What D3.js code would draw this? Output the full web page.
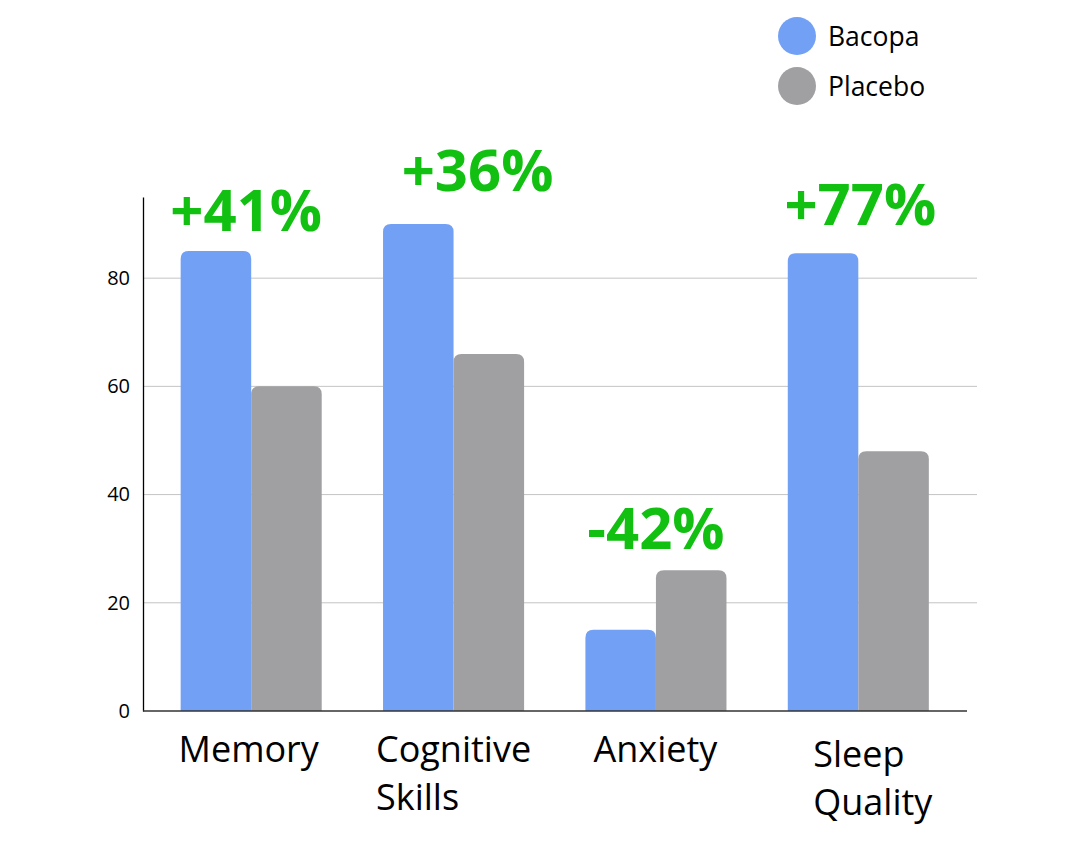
<!DOCTYPE html>
<html>
<head>
<meta charset="utf-8">
<script src="https://cdn.jsdelivr.net/npm/d3@7"></script>
<style>
  html, body { margin: 0; padding: 0; background: #ffffff; }
  svg { display: block; font-family: "Open Sans", "Noto Sans", sans-serif; }
</style>
</head>
<body>
<svg id="chart" width="1080" height="848"></svg>
<script>
const categories = [["Memory"], ["Cognitive", "Skills"], ["Anxiety"], ["Sleep", "Quality"]];
const seriesNames = ["Bacopa", "Placebo"];
const bacopa = [85, 90, 15, 84.6];
const placebo = [60, 66, 26, 48];
const changeLabels = ["+41%", "+36%", "-42%", "+77%"];
const yTicks = [0, 20, 40, 60, 80];
const colors = ["#72a0f5", "#a09fa1"];

// layout nudges (pixels), kept separate from data
const changeNudge = [[-5, 4], [24, -9], [0, 3], [2, -4]];
const catNudge = [[-2, 0], [0, 0], [0, 0], [15, 5]];

const svg = d3.select("#chart");
const catKeys = categories.map(c => c.join(" "));
const rows = catKeys.map((k, i) => ({ i, key: k, lines: categories[i], vals: [bacopa[i], placebo[i]], label: changeLabels[i] }));

const y = d3.scaleLinear().domain([0, 95]).range([711, 197]);
const x0 = d3.scaleBand().domain(catKeys).range([150, 959.5]).paddingInner(0.303).paddingOuter(0.1515);
const x1 = d3.scaleBand().domain(seriesNames).range([0, x0.bandwidth()]).padding(0);

// gridlines
svg.append("g").selectAll("line")
  .data(yTicks.filter(t => t > 0))
  .join("line")
  .attr("x1", 143).attr("x2", 977)
  .attr("y1", d => y(d)).attr("y2", d => y(d))
  .attr("stroke", "#c4c4c4").attr("stroke-width", 1);

// y axis
const yAxis = d3.axisLeft(y).tickValues(yTicks).tickSize(0).tickPadding(13);
const gy = svg.append("g").attr("transform", "translate(143,0)").call(yAxis);
gy.select(".domain").attr("stroke", "#000").attr("stroke-width", 1.3);
gy.selectAll("text").attr("font-size", 20).attr("fill", "#000")
  .attr("font-family", "'Open Sans', 'Noto Sans', sans-serif");

// bars with rounded top corners
function topRounded(xp, yp, w, h, r) {
  r = Math.min(r, h, w / 2);
  return `M${xp},${yp + h}V${yp + r}Q${xp},${yp} ${xp + r},${yp}H${xp + w - r}Q${xp + w},${yp} ${xp + w},${yp + r}V${yp + h}Z`;
}

const groups = svg.append("g").selectAll("g")
  .data(rows).join("g")
  .attr("transform", d => `translate(${x0(d.key)},0)`);

groups.selectAll("path")
  .data(d => d.vals.map((v, j) => ({ name: seriesNames[j], v, j })))
  .join("path")
  .attr("d", d => topRounded(x1(d.name), y(d.v), x1.bandwidth(), y(0) - y(d.v), 8))
  .attr("fill", d => colors[d.j]);

// x axis line
svg.append("line").attr("x1", 143).attr("x2", 967).attr("y1", y(0)).attr("y2", y(0))
  .attr("stroke", "#333").attr("stroke-width", 1.6);

// category labels (multi-line block centered, lines left-aligned)
rows.forEach(d => {
  const cx = x0(d.key) + x0.bandwidth() / 2 + catNudge[d.i][0];
  const t = svg.append("text").attr("font-size", 36).attr("fill", "#000");
  d.lines.forEach((ln, k) => {
    t.append("tspan").attr("x", 0).attr("y", 762 + k * 48 + catNudge[d.i][1]).text(ln);
  });
  const w = t.node().getBBox().width;
  t.attr("transform", `translate(${cx - w / 2},0)`);
});

// change labels
svg.append("g").selectAll("text")
  .data(rows).join("text")
  .attr("x", d => x0(d.key) + x0.bandwidth() / 2 + changeNudge[d.i][0])
  .attr("y", d => y(d3.max(d.vals)) - 24 + changeNudge[d.i][1])
  .attr("text-anchor", "middle")
  .attr("font-size", 58).attr("font-weight", 700)
  .attr("fill", "#12c012")
  .text(d => d.label);

// legend
const legend = svg.append("g").selectAll("g")
  .data(seriesNames).join("g")
  .attr("transform", (d, i) => `translate(797,${36 + i * 50})`);
legend.append("circle").attr("r", 19).attr("fill", (d, i) => colors[i]);
legend.append("text").attr("x", 31).attr("y", 9.5)
  .attr("font-size", 26.5).attr("fill", "#000").text(d => d);
</script>
</body>
</html>
